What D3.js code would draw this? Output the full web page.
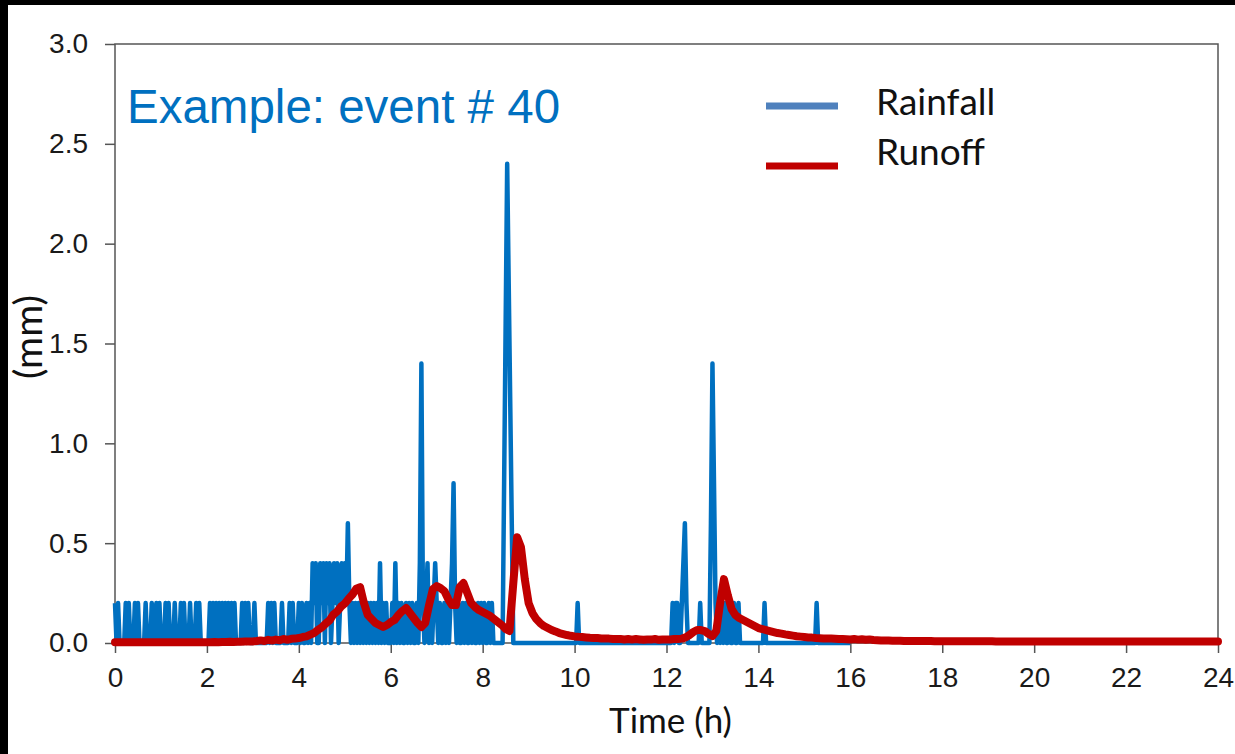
<!DOCTYPE html>
<html>
<head>
<meta charset="utf-8">
<script src="https://cdn.jsdelivr.net/npm/d3@7"></script>
<style>
  html, body { margin: 0; padding: 0; background: #fff; }
  svg { display: block; }
</style>
</head>
<body>
<svg id="chart" width="1235" height="754"></svg>
<script>
// Event #40: rainfall (2-minute steps, 0-16 h) and runoff (5-minute steps, 0-24 h).
const rainStepHours = 2 / 60;
const runoffStepHours = 5 / 60;

// Rainfall (mm), one row per hour (30 steps each), final value at 16 h.
const rainfall = [
  0.2,0,0.2,0,0,0,0,0.2,0,0.2,0,0,0,0.2,0,0.2,0,0,0,0,0.2,0,0,0,0.2,0,0,0.2,0,0.2,
  0,0,0,0.2,0,0.2,0,0,0,0.2,0,0,0,0.2,0,0.2,0,0,0,0.2,0,0,0,0.2,0,0.2,0,0,0,0,
  0,0,0.2,0,0.2,0,0.2,0,0.2,0,0.2,0,0.2,0,0.2,0,0.2,0,0.2,0,0,0,0,0.2,0,0.2,0,0.2,0,0,
  0,0.2,0,0,0,0,0,0,0,0,0.2,0,0.2,0,0.2,0,0,0,0,0.2,0,0,0,0,0.2,0,0.2,0,0,0,
  0.2,0,0.2,0,0,0.2,0,0.2,0,0.4,0.2,0.4,0,0,0.4,0.2,0.4,0,0.4,0.2,0.4,0,0.2,0.4,0.2,0.4,0,0.2,0.4,0.2,
  0.4,0.2,0.6,0.2,0,0.2,0,0.2,0,0.2,0,0.2,0,0.2,0,0.2,0,0.2,0,0.2,0,0.2,0,0.4,0,0.2,0,0.2,0,0,
  0,0.2,0,0.4,0,0.2,0,0.2,0,0,0.2,0,0.2,0,0.2,0,0,0.2,0,0.4,1.4,0.2,0,0.2,0.4,0,0.2,0,0.2,0.4,
  0.2,0,0.2,0,0,0.2,0,0.2,0,0.2,0.4,0.8,0.2,0,0.2,0,0,0.2,0,0.2,0,0,0.2,0,0.2,0,0,0.2,0,0.2,
  0,0.2,0,0,0.2,0,0.2,0,0,0,0,0,0,0,0.8,1.6,2.4,1.8,1.2,0.6,0,0,0,0,0,0,0,0,0,0,
  0,0,0,0,0,0,0,0,0,0,0,0,0,0,0,0,0,0,0,0,0,0,0,0,0,0,0,0,0,0,
  0,0,0.2,0,0,0,0,0,0,0,0,0,0,0,0,0,0,0,0,0,0,0,0,0,0,0,0,0,0,0,
  0,0,0,0,0,0,0,0,0,0,0,0,0,0,0,0,0,0,0,0,0,0,0,0,0,0,0,0,0,0,
  0,0,0,0,0.2,0,0.2,0.2,0,0,0.2,0.4,0.6,0.2,0,0,0,0,0,0,0,0,0.2,0,0,0,0,0,0,0.6,
  1.4,0.8,0.2,0,0.2,0,0.2,0,0.2,0,0,0.2,0,0,0.2,0,0,0.2,0,0,0,0,0,0,0,0,0,0,0,0,
  0,0,0,0,0.2,0,0,0,0,0,0,0,0,0,0,0,0,0,0,0,0,0,0,0,0,0,0,0,0,0,
  0,0,0,0,0,0,0,0,0.2,0,0,0,0,0,0,0,0,0,0,0,0,0,0,0,0,0,0,0,0,0,
  0
];

// Runoff (mm), one row per hour (12 steps each), final value at 24 h.
const runoff = [
  0.004,0.004,0.004,0.004,0.004,0.004,0.004,0.004,0.004,0.004,0.004,0.004,
  0.004,0.004,0.004,0.004,0.004,0.004,0.004,0.004,0.004,0.004,0.004,0.004,
  0.004,0.004,0.005,0.004,0.005,0.005,0.006,0.005,0.006,0.006,0.007,0.007,
  0.008,0.010,0.013,0.010,0.016,0.012,0.017,0.014,0.020,0.016,0.021,0.022,
  0.025,0.030,0.033,0.042,0.050,0.066,0.078,0.097,0.113,0.142,0.158,0.182,
  0.198,0.222,0.243,0.272,0.280,0.200,0.140,0.120,0.100,0.090,0.080,0.090,
  0.105,0.115,0.140,0.160,0.175,0.150,0.125,0.100,0.080,0.100,0.190,0.270,
  0.285,0.275,0.260,0.220,0.190,0.190,0.280,0.300,0.250,0.200,0.180,0.165,
  0.155,0.145,0.135,0.120,0.105,0.090,0.070,0.060,0.300,0.530,0.480,0.320,
  0.200,0.150,0.120,0.100,0.085,0.075,0.065,0.058,0.050,0.045,0.040,0.036,
  0.033,0.031,0.030,0.028,0.026,0.025,0.025,0.023,0.022,0.022,0.020,0.020,
  0.020,0.018,0.020,0.017,0.020,0.018,0.016,0.018,0.017,0.020,0.016,0.018,
  0.018,0.018,0.020,0.020,0.022,0.028,0.040,0.055,0.065,0.065,0.060,0.045,
  0.035,0.060,0.200,0.320,0.240,0.170,0.140,0.125,0.115,0.105,0.095,0.085,
  0.075,0.070,0.065,0.060,0.055,0.050,0.047,0.043,0.040,0.037,0.034,0.032,
  0.030,0.028,0.027,0.025,0.024,0.023,0.022,0.022,0.021,0.020,0.020,0.019,
  0.018,0.020,0.017,0.019,0.016,0.018,0.015,0.014,0.013,0.012,0.012,0.011,
  0.011,0.011,0.010,0.010,0.010,0.010,0.010,0.010,0.010,0.010,0.009,0.009,
  0.009,0.009,0.009,0.009,0.009,0.009,0.009,0.009,0.009,0.009,0.009,0.009,
  0.009,0.009,0.008,0.008,0.008,0.008,0.008,0.008,0.008,0.008,0.008,0.008,
  0.008,0.008,0.008,0.008,0.008,0.008,0.008,0.008,0.008,0.008,0.008,0.008,
  0.008,0.008,0.008,0.008,0.007,0.007,0.007,0.007,0.007,0.007,0.007,0.007,
  0.007,0.007,0.007,0.007,0.007,0.007,0.007,0.007,0.007,0.007,0.007,0.007,
  0.007,0.007,0.007,0.007,0.007,0.007,0.007,0.007,0.007,0.007,0.007,0.007,
  0.007
];

const xTicks = [0, 2, 4, 6, 8, 10, 12, 14, 16, 18, 20, 22, 24];
const yTicks = [0, 0.5, 1.0, 1.5, 2.0, 2.5, 3.0];
const seriesNames = ["Rainfall", "Runoff"];
const titleText = "Example: event # 40";

const svg = d3.select("#chart");

// dark frame strips along the top and left edges
svg.append("rect").attr("x", 0).attr("y", 0).attr("width", 1235).attr("height", 5).attr("fill", "#000");
svg.append("rect").attr("x", 0).attr("y", 0).attr("width", 8).attr("height", 754).attr("fill", "#000");

const plot = { left: 115, right: 1218, top: 44, bottom: 643 };
const x = d3.scaleLinear().domain([0, 24]).range([plot.left, plot.right]);
const y = d3.scaleLinear().domain([0, 3]).range([plot.bottom, plot.top]);

const axisColor = "#555";
const tickFont = "'Liberation Sans', Arial, sans-serif";

// y axis
const yAxis = svg.append("g")
  .attr("transform", `translate(${plot.left},0)`)
  .call(d3.axisLeft(y).tickValues(yTicks).tickFormat(d3.format(".1f"))
    .tickSize(10).tickSizeOuter(0).tickPadding(17));
// x axis
const xAxis = svg.append("g")
  .attr("transform", `translate(0,${plot.bottom})`)
  .call(d3.axisBottom(x).tickValues(xTicks).tickFormat(d3.format("d"))
    .tickSize(10).tickSizeOuter(0).tickPadding(14));

[yAxis, xAxis].forEach(g => {
  g.select(".domain").remove();
  g.selectAll(".tick line").attr("stroke", axisColor).attr("stroke-width", 1.5);
  g.selectAll(".tick text").attr("fill", "#1a1a1a")
    .style("font-family", tickFont).style("font-size", "28px");
});

// plot frame
svg.append("rect")
  .attr("x", plot.left).attr("y", plot.top)
  .attr("width", plot.right - plot.left).attr("height", plot.bottom - plot.top)
  .attr("fill", "none").attr("stroke", axisColor).attr("stroke-width", 1.5);

const lineFor = step => d3.line()
  .x((d, i) => x(i * step))
  .y(d => y(d));

svg.append("path")
  .datum(rainfall)
  .attr("d", lineFor(rainStepHours))
  .attr("fill", "none")
  .attr("stroke", "#0070C0")
  .attr("stroke-width", 4.5)
  .attr("stroke-linejoin", "round");

svg.append("path")
  .datum(runoff)
  .attr("d", lineFor(runoffStepHours))
  .attr("fill", "none")
  .attr("stroke", "#C00000")
  .attr("stroke-width", 8)
  .attr("stroke-linejoin", "round")
  .attr("stroke-linecap", "round");

// title
svg.append("text")
  .attr("x", 127).attr("y", 123)
  .attr("fill", "#0070C0")
  .style("font-family", tickFont).style("font-size", "47.5px")
  .text(titleText);

// legend
const legendFont = "Lato, 'Open Sans', sans-serif";
const legendColors = ["#4F81BD", "#C00000"];
const legendLineY = [106, 166];
const legendTextY = [115, 165];
seriesNames.forEach((name, k) => {
  svg.append("line")
    .attr("x1", 766).attr("x2", 838)
    .attr("y1", legendLineY[k]).attr("y2", legendLineY[k])
    .attr("stroke", legendColors[k]).attr("stroke-width", 7);
  svg.append("text")
    .attr("x", 876).attr("y", legendTextY[k])
    .attr("fill", "#111")
    .style("font-family", legendFont).style("font-size", "37px")
    .text(name);
});

// axis titles
svg.append("text")
  .attr("x", (plot.left + plot.right) / 2 + 4).attr("y", 733)
  .attr("text-anchor", "middle")
  .attr("fill", "#111")
  .style("font-family", legendFont).style("font-size", "35px")
  .text("Time (h)");

svg.append("text")
  .attr("transform", "translate(42,337) rotate(-90)")
  .attr("text-anchor", "middle")
  .attr("fill", "#111")
  .style("font-family", legendFont).style("font-size", "39px")
  .text("(mm)");
</script>
</body>
</html>
